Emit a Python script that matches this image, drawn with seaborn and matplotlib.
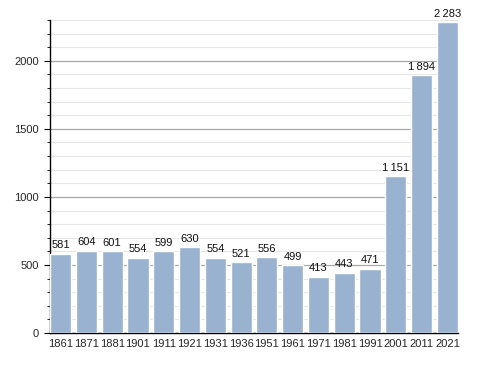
import matplotlib
matplotlib.use("Agg")
import matplotlib.pyplot as plt
import seaborn as sns
import pandas as pd
from matplotlib.ticker import MultipleLocator

years = ["1861", "1871", "1881", "1901", "1911", "1921", "1931", "1936",
         "1951", "1961", "1971", "1981", "1991", "2001", "2011", "2021"]
population = [581, 604, 601, 554, 599, 630, 554, 521, 556, 499, 413, 443,
              471, 1151, 1894, 2283]

df = pd.DataFrame({"year": years, "pop": population})

sns.set_style("white")
plt.rcParams["font.family"] = ["Liberation Sans", "DejaVu Sans"]

fig = plt.figure(figsize=(4.88, 3.73), dpi=100)
ax = fig.add_axes([50/488, 40/373, 408/488, 313/373])

W = 0.82
sns.barplot(data=df, x="year", y="pop", color="#98b2cf", saturation=1,
            width=W, ax=ax, zorder=3)

ax.set_xlim(-W/2, len(years) - 1 + W/2)
ax.set_ylim(0, 2300)
ax.yaxis.set_major_locator(MultipleLocator(500))
ax.yaxis.set_minor_locator(MultipleLocator(100))
ax.grid(axis="y", which="major", color="#a8a8a8", linewidth=0.9, zorder=0)
ax.grid(axis="y", which="minor", color="#e6e6e6", linewidth=0.8, zorder=0)
ax.set_axisbelow(True)

for s in ["top", "right"]:
    ax.spines[s].set_visible(False)
for s in ["left", "bottom"]:
    ax.spines[s].set_color("black")
    ax.spines[s].set_linewidth(1.0)

ax.tick_params(axis="y", which="major", left=True, length=4, width=0.8,
               labelsize=8, pad=4, color="black")
ax.tick_params(axis="y", which="minor", left=True, length=2.5, width=0.6,
               color="black")
ax.tick_params(axis="x", bottom=False, labelsize=8, pad=1)
ax.set_xlabel("")
ax.set_ylabel("")

def fmt(v):
    s = f"{v:,}".replace(",", "\u2009")
    return s

for i, v in enumerate(population):
    ax.annotate(fmt(v), (i, v), xytext=(0, 2.5), textcoords="offset points",
                ha="center", va="bottom", fontsize=8, color="#111111", zorder=5)

fig.savefig("out.png", dpi=100)
